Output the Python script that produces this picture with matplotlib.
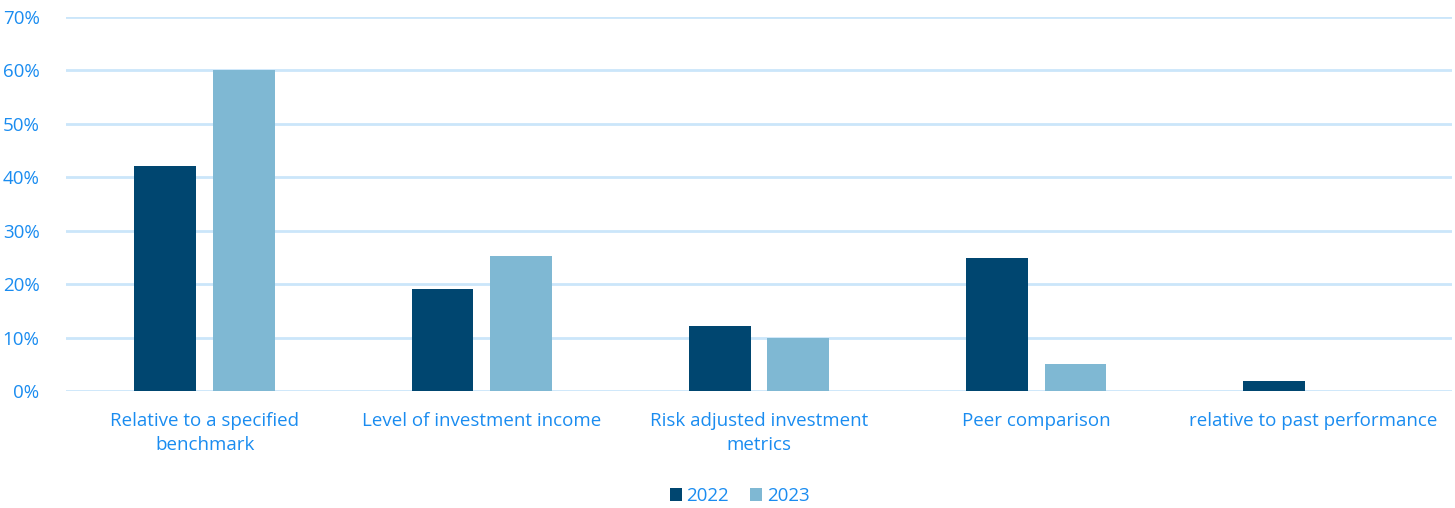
import matplotlib
matplotlib.use("Agg")
import matplotlib.pyplot as plt
import numpy as np
from matplotlib.ticker import PercentFormatter

categories = [
    "Relative to a specified\nbenchmark",
    "Level of investment income",
    "Risk adjusted investment\nmetrics",
    "Peer comparison",
    "relative to past performance",
]
values_2022 = [42.2, 19.0, 12.2, 24.8, 1.9]
values_2023 = [60.0, 25.2, 10.0, 5.1, 0.0]

text_color = "#1A8CF0"
dark = "#004670"
light = "#7FB8D3"
grid_color = "#CBE6FA"

plt.rcParams["font.family"] = ["Open Sans", "DejaVu Sans"]

fig = plt.figure(figsize=(14.55, 5.08), dpi=100)
ax = fig.add_axes([66 / 1455, 1 - 391 / 508, (1452 - 66) / 1455, (391 - 17) / 508])

x = np.arange(len(categories))
width = 0.223
offset = 0.142
ax.bar(x - offset, values_2022, width, color=dark, label="2022", zorder=3)
ax.bar(x + offset, values_2023, width, color=light, label="2023", zorder=3)

ax.set_xlim(-0.5, len(categories) - 0.5)
ax.set_ylim(0, 70)
ax.set_yticks(np.arange(0, 71, 10))
ax.yaxis.set_major_formatter(PercentFormatter(decimals=0))
ax.grid(axis="y", color=grid_color, linewidth=2, zorder=0)
ax.set_axisbelow(True)

ax.set_xticks(x)
ax.set_xticklabels(categories, fontsize=13.5, color=text_color, linespacing=1.45)
ax.tick_params(axis="y", labelsize=13.5, labelcolor=text_color, length=0, pad=19)
ax.tick_params(axis="x", length=0, pad=15)
for s in ax.spines.values():
    s.set_visible(False)

fig.legend(loc="center", bbox_to_anchor=(0.5 + 12 / 1455, 1 - 496 / 508), ncol=2,
           frameon=False, fontsize=13.5, labelcolor=text_color, handlelength=0.65,
           handleheight=0.65, handletextpad=0.25, columnspacing=1.1)

fig.savefig("out.png", dpi=100)
